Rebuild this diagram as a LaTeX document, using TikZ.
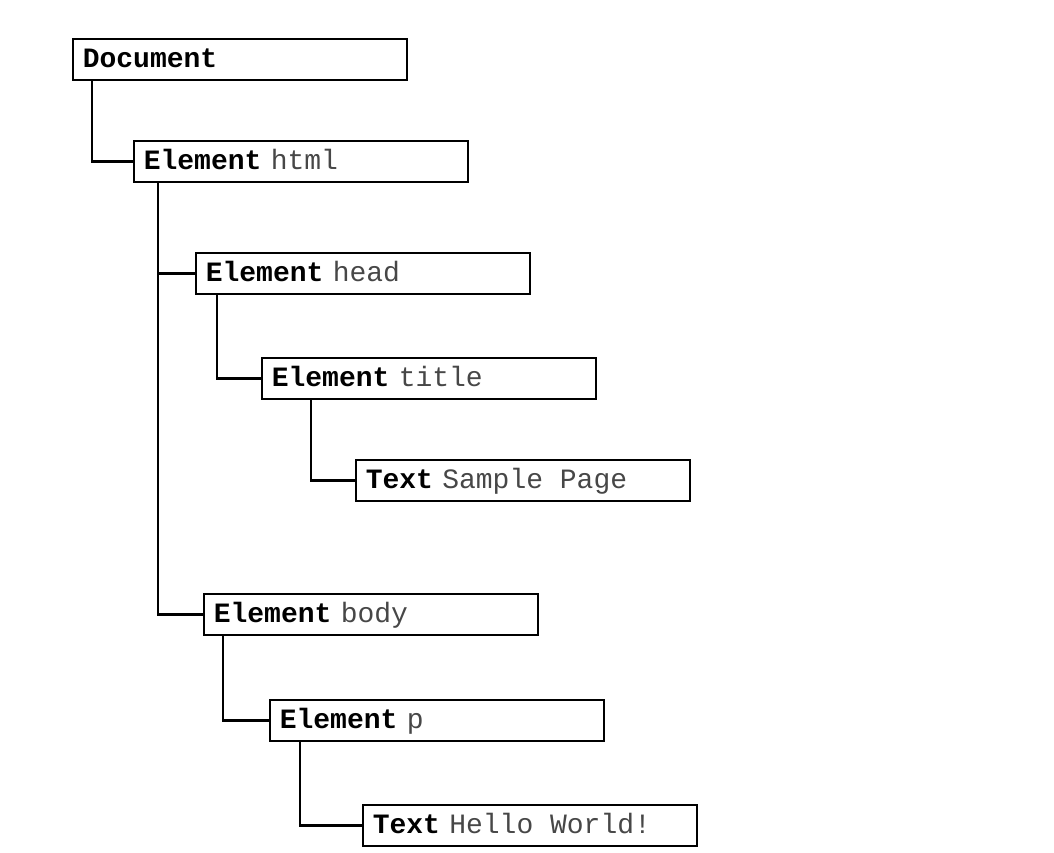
\documentclass[tikz,border=0pt]{standalone}
\usepackage{fontspec}
\setmonofont{Liberation Mono}
\begin{document}
\begin{tikzpicture}[x=1pt,y=-1pt,
  domnode/.style={draw=black, line width=1.6pt, rectangle, anchor=north west,
    minimum height=41pt, text width=314pt, inner xsep=10pt, inner ysep=0pt,
    align=left, text height=20pt, text depth=4pt,
    font=\ttfamily\fontsize{28}{30}\selectfont},
  link/.style={draw=black, line width=2.8pt},
]
\newcommand{\kd}[1]{\textbf{#1}}
\newcommand{\nm}[1]{\textcolor{black!72}{#1}}
\newcommand{\fsp}{\hspace{0.6em}}
\useasboundingbox (0,0) rectangle (1054,853);
\node[domnode] (doc)    at (72,38)  {\kd{Document}};
\node[domnode] (html)   at (133,140) {\kd{Element} \nm{html}};
\node[domnode] (head)   at (195,252) {\kd{Element} \nm{head}};
\node[domnode] (title)  at (261,357) {\kd{Element} \nm{title}};
\node[domnode] (sample) at (355,459) {\kd{Text} \nm{Sample\fsp Page}};
\node[domnode] (body)   at (203,593) {\kd{Element} \nm{body}};
\node[domnode] (p)      at (269,699) {\kd{Element} \nm{p}};
\node[domnode] (hello)  at (362,804) {\kd{Text} \nm{Hello\fsp World!}};
\draw[link] ([xshift=20pt]doc.south west) |- (html.west);
\draw[link] ([xshift=25pt]html.south west) |- (head.west);
\draw[link] ([xshift=25pt]html.south west) |- (body.west);
\draw[link] ([xshift=22pt]head.south west) |- (title.west);
\draw[link] ([xshift=50pt]title.south west) |- (sample.west);
\draw[link] ([xshift=20pt]body.south west) |- (p.west);
\draw[link] ([xshift=31pt]p.south west) |- (hello.west);
\end{tikzpicture}
\end{document}
